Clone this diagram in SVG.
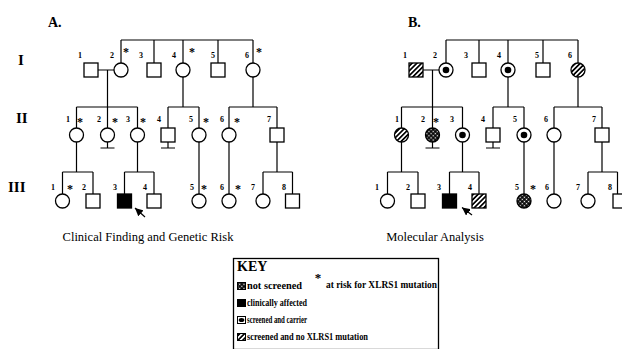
<svg xmlns="http://www.w3.org/2000/svg" width="622" height="349" viewBox="0 0 622 349">
<style>
.sym{stroke:#000;stroke-width:1.3;fill:#fff}
.ln{stroke:#000;stroke-width:1.2;fill:none}
.num{font-family:"Liberation Serif",serif;font-weight:bold;font-size:8px;text-anchor:middle;fill:#000}
.ast{font-family:"Liberation Serif",serif;font-weight:bold;font-size:12px;text-anchor:middle;fill:#000}
.gen{font-family:"Liberation Serif",serif;font-weight:bold;font-size:15px;fill:#000}
.ttl{font-family:"Liberation Serif",serif;font-weight:bold;font-size:14px;fill:#000}
.cap{font-family:"Liberation Serif",serif;font-size:12.5px;text-anchor:middle;fill:#000}
.key{font-family:"Liberation Serif",serif;font-weight:bold;font-size:9.5px;fill:#000}
</style>
<defs>
<pattern id="hatch" patternUnits="userSpaceOnUse" width="3.4" height="3.4" patternTransform="rotate(45)">
<rect width="3.4" height="3.4" fill="#fff"/>
<rect width="1.7" height="3.4" fill="#000"/>
</pattern>
<pattern id="xhatch" patternUnits="userSpaceOnUse" width="3" height="3" patternTransform="rotate(45)">
<rect width="3" height="3" fill="#000"/>
<rect x="0.8" y="0.8" width="1.4" height="1.4" fill="#fff"/>
</pattern>
<marker id="arr" markerWidth="8" markerHeight="8" refX="8" refY="4" orient="auto" markerUnits="userSpaceOnUse">
<path d="M0,0 L8,4 L0,8 z" fill="#000"/>
</marker>
</defs>

<!-- titles and generation labels -->
<text class="ttl" x="48" y="27">A.</text>
<text class="ttl" x="408" y="27">B.</text>
<text class="gen" x="18" y="65">I</text>
<text class="gen" x="16" y="123">II</text>
<text class="gen" x="8" y="192">III</text>
<text class="cap" x="148" y="241">Clinical Finding and Genetic Risk</text>
<text class="cap" x="435" y="241">Molecular Analysis</text>

<!-- ================= Panel A ================= -->
<g id="panelA">
<g id="A-connectors" class="ln">
<path d="M121,40 H253 M121,40 V63 M154,40 V63 M183,40 V63 M218,40 V63 M253,40 V63"/>
<path d="M98,70 H114 M107.5,70 V107"/>
<path d="M76.5,107 H137.5 M76.5,107 V128 M107.5,107 V128 M137.5,107 V128"/>
<path d="M183,77 V107 M168,107 H199 M168,107 V128 M199,107 V128"/>
<path d="M253,77 V107 M229,107 H277 M229,107 V128 M277,107 V128"/>
<path d="M107.5,142 V148 M100.5,148 H114.5 M168,142 V148 M161,148 H175"/>
<path d="M76.5,142 V172 M62.5,172 H93 M62.5,172 V194 M93,172 V194"/>
<path d="M137.5,142 V172 M124.5,172 H154 M124.5,172 V194 M154,172 V194"/>
<path d="M199,142 V194 M229,142 V194"/>
<path d="M277,142 V172 M263,172 H292.5 M263,172 V194 M292.5,172 V194"/>
<path d="M145,217 L135,208" marker-end="url(#arr)"/>
</g>
<g id="A-I-1"><rect class="sym" x="84" y="63" width="14" height="14"/><text class="num" x="80" y="58">1</text></g>
<g id="A-I-2"><circle class="sym" cx="121" cy="70" r="7"/><text class="num" x="112" y="58">2</text><text class="ast" x="126" y="56">*</text></g>
<g id="A-I-3"><rect class="sym" x="147" y="63" width="14" height="14"/><text class="num" x="141" y="58">3</text></g>
<g id="A-I-4"><circle class="sym" cx="183" cy="70" r="7"/><text class="num" x="174" y="58">4</text><text class="ast" x="192" y="56">*</text></g>
<g id="A-I-5"><rect class="sym" x="211" y="63" width="14" height="14"/><text class="num" x="213" y="58">5</text></g>
<g id="A-I-6"><circle class="sym" cx="253" cy="70" r="7"/><text class="num" x="247" y="58">6</text><text class="ast" x="259" y="56">*</text></g>

<g id="A-II-1"><circle class="sym" cx="76.5" cy="135" r="7"/><text class="num" x="68" y="122">1</text><text class="ast" x="80" y="126">*</text></g>
<g id="A-II-2"><circle class="sym" cx="107.5" cy="135" r="7"/><text class="num" x="99" y="122">2</text><text class="ast" x="115" y="126">*</text></g>
<g id="A-II-3"><circle class="sym" cx="137.5" cy="135" r="7"/><text class="num" x="128" y="122">3</text><text class="ast" x="143" y="126">*</text></g>
<g id="A-II-4"><rect class="sym" x="161" y="128" width="14" height="14"/><text class="num" x="159" y="122">4</text></g>
<g id="A-II-5"><circle class="sym" cx="199" cy="135" r="7"/><text class="num" x="191" y="122">5</text><text class="ast" x="206" y="126">*</text></g>
<g id="A-II-6"><circle class="sym" cx="229" cy="135" r="7"/><text class="num" x="222" y="122">6</text><text class="ast" x="237" y="126">*</text></g>
<g id="A-II-7"><rect class="sym" x="270" y="128" width="14" height="14"/><text class="num" x="269" y="122">7</text></g>

<g id="A-III-1"><circle class="sym" cx="62.5" cy="201" r="7"/><text class="num" x="53" y="190">1</text><text class="ast" x="70" y="193">*</text></g>
<g id="A-III-2"><rect class="sym" x="86" y="194" width="14" height="14"/><text class="num" x="84" y="190">2</text></g>
<g id="A-III-3"><rect class="sym" x="117.5" y="194" width="14" height="14" style="fill:#000"/><text class="num" x="115" y="190">3</text></g>
<g id="A-III-4"><rect class="sym" x="147" y="194" width="14" height="14"/><text class="num" x="145" y="190">4</text></g>
<g id="A-III-5"><circle class="sym" cx="199" cy="201" r="7"/><text class="num" x="192" y="190">5</text><text class="ast" x="204" y="193">*</text></g>
<g id="A-III-6"><circle class="sym" cx="229" cy="201" r="7"/><text class="num" x="222" y="190">6</text><text class="ast" x="238" y="193">*</text></g>
<g id="A-III-7"><circle class="sym" cx="263" cy="201" r="7"/><text class="num" x="253" y="190">7</text></g>
<g id="A-III-8"><rect class="sym" x="285.5" y="194" width="14" height="14"/><text class="num" x="284" y="190">8</text></g>
</g>

<!-- ================= Panel B ================= -->
<g id="panelB" transform="translate(325,0)">
<g id="B-connectors" class="ln">
<path d="M121,40 H253 M121,40 V63 M154,40 V63 M183,40 V63 M218,40 V63 M253,40 V63"/>
<path d="M98,70 H114 M107.5,70 V107"/>
<path d="M76.5,107 H137.5 M76.5,107 V128 M107.5,107 V128 M137.5,107 V128"/>
<path d="M183,77 V107 M168,107 H199 M168,107 V128 M199,107 V128"/>
<path d="M253,77 V107 M229,107 H277 M229,107 V128 M277,107 V128"/>
<path d="M107.5,142 V148 M100.5,148 H114.5 M168,142 V148 M161,148 H175"/>
<path d="M76.5,142 V172 M62.5,172 H93 M62.5,172 V194 M93,172 V194"/>
<path d="M137.5,142 V172 M124.5,172 H154 M124.5,172 V194 M154,172 V194"/>
<path d="M199,142 V194 M229,142 V194"/>
<path d="M277,142 V172 M263,172 H292.5 M263,172 V194 M292.5,172 V194"/>
<path d="M147,215 L137,207.5" marker-end="url(#arr)"/>
</g>
<g id="B-I-1"><rect class="sym" x="84" y="63" width="14" height="14" style="fill:url(#hatch)"/><text class="num" x="80" y="58">1</text></g>
<g id="B-I-2"><circle class="sym" cx="121" cy="70" r="7"/><circle cx="121" cy="70" r="3.3" fill="#000"/><text class="num" x="110" y="58">2</text></g>
<g id="B-I-3"><rect class="sym" x="147" y="63" width="14" height="14"/><text class="num" x="141" y="58">3</text></g>
<g id="B-I-4"><circle class="sym" cx="183" cy="70" r="7"/><circle cx="183" cy="70" r="3.3" fill="#000"/><text class="num" x="174" y="58">4</text></g>
<g id="B-I-5"><rect class="sym" x="211" y="63" width="14" height="14"/><text class="num" x="212" y="58">5</text></g>
<g id="B-I-6"><circle class="sym" cx="253" cy="70" r="7" style="fill:url(#hatch)"/><text class="num" x="245" y="58">6</text></g>

<g id="B-II-1"><circle class="sym" cx="76.5" cy="135" r="7" style="fill:url(#hatch)"/><text class="num" x="72" y="122">1</text></g>
<g id="B-II-2"><circle class="sym" cx="107.5" cy="135" r="7" style="fill:url(#xhatch)"/><text class="num" x="98" y="122">2</text><text class="ast" x="111" y="126">*</text></g>
<g id="B-II-3"><circle class="sym" cx="137.5" cy="135" r="7"/><circle cx="137.5" cy="135" r="3.3" fill="#000"/><text class="num" x="127" y="122">3</text></g>
<g id="B-II-4"><rect class="sym" x="161" y="128" width="14" height="14"/><text class="num" x="158" y="122">4</text></g>
<g id="B-II-5"><circle class="sym" cx="199" cy="135" r="7"/><circle cx="199" cy="135" r="3.3" fill="#000"/><text class="num" x="190" y="122">5</text></g>
<g id="B-II-6"><circle class="sym" cx="229" cy="135" r="7"/><text class="num" x="221" y="122">6</text></g>
<g id="B-II-7"><rect class="sym" x="270" y="128" width="14" height="14"/><text class="num" x="269" y="122">7</text></g>

<g id="B-III-1"><circle class="sym" cx="62.5" cy="201" r="7"/><text class="num" x="52" y="190">1</text></g>
<g id="B-III-2"><rect class="sym" x="86" y="194" width="14" height="14"/><text class="num" x="83" y="190">2</text></g>
<g id="B-III-3"><rect class="sym" x="117.5" y="194" width="14" height="14" style="fill:#000"/><text class="num" x="114" y="190">3</text></g>
<g id="B-III-4"><rect class="sym" x="147" y="194" width="14" height="14" style="fill:url(#hatch)"/><text class="num" x="145" y="190">4</text></g>
<g id="B-III-5"><circle class="sym" cx="199" cy="201" r="7" style="fill:url(#xhatch)"/><text class="num" x="192" y="190">5</text><text class="ast" x="208" y="193">*</text></g>
<g id="B-III-6"><circle class="sym" cx="229" cy="201" r="7"/><text class="num" x="222" y="190">6</text></g>
<g id="B-III-7"><circle class="sym" cx="263" cy="201" r="7"/><text class="num" x="253" y="190">7</text></g>
<g id="B-III-8"><rect class="sym" x="288" y="194" width="14" height="14"/><text class="num" x="285" y="190">8</text></g>
</g>

<!-- ================= Key ================= -->
<g id="key">
<rect x="233.5" y="258.5" width="205" height="91" fill="#fff" stroke="#000" stroke-width="1.3"/>
<text class="ttl" x="237" y="271">KEY</text>
<rect x="237.5" y="282.5" width="8" height="7" fill="url(#xhatch)" stroke="#000" stroke-width="1"/>
<text class="key" x="247" y="289" textLength="55" lengthAdjust="spacingAndGlyphs">not screened</text>
<text class="ast" x="318" y="282" style="font-size:13px">*</text>
<text class="key" x="326" y="288" textLength="111" lengthAdjust="spacingAndGlyphs">at risk for XLRS1 mutation</text>
<rect x="237" y="299" width="9" height="8" fill="#000"/>
<text class="key" x="247" y="306" textLength="60" lengthAdjust="spacingAndGlyphs">clinically affected</text>
<rect x="237.5" y="316.5" width="8" height="7" fill="#fff" stroke="#000" stroke-width="1"/>
<ellipse cx="241.5" cy="320" rx="2.8" ry="2.1" fill="#000"/>
<text class="key" x="247" y="323" textLength="60" lengthAdjust="spacingAndGlyphs">screened and carrier</text>
<rect x="237.5" y="333.5" width="8" height="7" fill="url(#hatch)" stroke="#000" stroke-width="1"/>
<text class="key" x="247" y="340" textLength="121" lengthAdjust="spacingAndGlyphs">screened and no XLRS1 mutation</text>
</g>
</svg>
